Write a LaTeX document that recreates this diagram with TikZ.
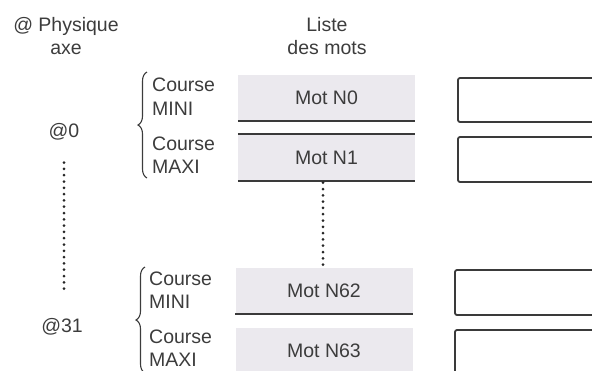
\documentclass[tikz,border=0pt]{standalone}
\usepackage{fontspec}
\setmainfont{Liberation Sans}
\usetikzlibrary{decorations.pathreplacing}
\definecolor{txt}{HTML}{3C3C3C}
\definecolor{motfill}{HTML}{EBE9EE}
\definecolor{edge}{HTML}{3A3A3A}
\begin{document}
\begin{tikzpicture}[x=1pt,y=-1pt,
  fnt/.style={font=\fontsize{19.5}{23.5}\selectfont},
  lbl/.style={fnt,text=txt,inner sep=0pt,align=center},
  crs/.style={fnt,text=txt,inner sep=0pt,align=left,anchor=west},
  motbox/.style={fnt,fill=motfill,draw=none,minimum width=177pt,minimum height=46pt,inner sep=0pt,
    text=txt},
  rbox/.style={draw=edge,line width=1.8pt,rounded corners=2pt},
  rule/.style={draw=edge,line width=2pt},
  dots/.style={line width=3pt,dash pattern=on 0pt off 6.3pt,line cap=round,black!85},
  cbrace/.style={draw=txt,line width=1.1pt,decorate,decoration={brace,amplitude=9pt}}]
\useasboundingbox (0,0) rectangle (592,370);

% headers
\node[lbl] (phys) at (66,36) {@ Physique\\axe};
\node[lbl] (liste) at (327,36) {Liste\\des mots};

% word boxes
\node[motbox] (n0) at (326.5,98) {Mot N0};
\node[motbox] (n1) at (326.5,157.5) {Mot N1};
\node[motbox] (n62) at (324,291) {Mot N62};
\node[motbox] (n63) at (324,351) {Mot N63};
\draw[rule] (n0.south west) -- (n0.south east);
\draw[rule] (n1.north west) -- (n1.north east);
\draw[rule] (n1.south west) -- (n1.south east);
\draw[rule] (n62.south west) -- (n62.south east);

% right boxes
\draw[rbox] (458,78) rectangle (620,122);
\draw[rbox] (458,137) rectangle (620,182);
\draw[rbox] (455,270) rectangle (620,315);
\draw[rbox] (455,330) rectangle (620,392);

% course labels
\node[crs] (c0a) at (152,96.5) {Course\\MINI};
\node[crs] (c0b) at (152,155) {Course\\MAXI};
\node[crs] (c1a) at (149,290) {Course\\MINI};
\node[crs] (c1b) at (149,348) {Course\\MAXI};

% braces
\draw[cbrace] (147,178) -- (147,72);
\draw[cbrace] (145,373) -- (145,267);

% addresses
\node[lbl] (a0) at (64,132) {@0};
\node[lbl] (a31) at (62,327) {@31};

% dotted lines
\draw[dots,shorten <=22pt,shorten >=28pt] (a0.south) -- (a0.south |- a31.north);
\draw[dots,shorten <=2pt,shorten >=2pt] ([xshift=-3.5pt]n1.south) -- ([xshift=-1pt]n62.north);
\end{tikzpicture}
\end{document}
